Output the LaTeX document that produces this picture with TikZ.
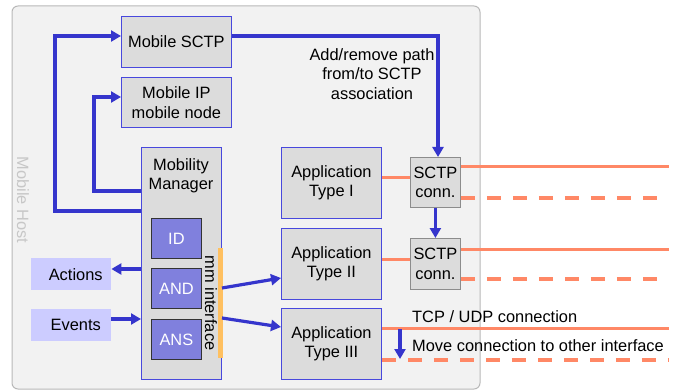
\documentclass[tikz,border=0pt]{standalone}
\usepackage{fontspec}
\setmainfont{Liberation Sans}
\usetikzlibrary{arrows.meta}
\definecolor{hostfill}{HTML}{F2F2F2}
\definecolor{hostdraw}{HTML}{B8B8B8}
\definecolor{boxgray}{HTML}{DCDCDC}
\definecolor{boxblue}{HTML}{4848DD}
\definecolor{arrblue}{HTML}{3535CC}
\definecolor{modfill}{HTML}{8080DD}
\definecolor{evfill}{HTML}{CCCCFF}
\definecolor{salmon}{HTML}{FF8866}
\definecolor{mmbar}{HTML}{FFC060}
\definecolor{conndraw}{HTML}{8C8C8C}
\begin{document}
\begin{tikzpicture}[x=1pt,y=-1pt,
  font=\fontsize{16.4}{19.5}\selectfont,
  box/.style={draw=boxblue, fill=boxgray, line width=0.8pt, align=center, inner sep=0pt, anchor=north west},
  modbox/.style={draw=black!80, fill=modfill, line width=0.8pt, text=white, inner sep=0pt, anchor=north west, minimum width=50, minimum height=40},
  evbox/.style={fill=evfill, inner sep=0pt, anchor=north west, minimum width=80, minimum height=32},
  connbox/.style={draw=conndraw, fill=boxgray, line width=0.8pt, align=center, inner sep=0pt, anchor=north west, minimum width=50, minimum height=50},
  barrow/.style={draw=arrblue, line width=3.2pt, -{Triangle[length=10pt,width=11pt]}},
  oline/.style={draw=salmon, line width=3pt},
  odash/.style={draw=salmon, line width=3.4pt, dash pattern=on 14pt off 12pt}]
\useasboundingbox (0,0) rectangle (677,390);
% host
\draw[fill=hostfill, draw=hostdraw, line width=1pt, rounded corners=6pt] (12,6) rectangle (480,389);
\node[rotate=-90, text=black!22] (host) at (23,200) {Mobile Host};
% boxes
\node[box, minimum width=110, minimum height=51] (msctp) at (121,16) {Mobile SCTP};
\node[box, minimum width=110, minimum height=50] (mip) at (121,77) {Mobile IP\\mobile node};
\node[box, minimum width=80, minimum height=232] (mm) at (141,147) {};
\node[align=center] (mmt) at (181,176) {Mobility\\Manager};
\node[modbox] (id) at (151,218) {ID};
\node[modbox] (and) at (151,268) {AND};
\node[modbox] (ans) at (151,319) {ANS};
\fill[mmbar] (218,248) rectangle (223,358);
\coordinate (bar1) at (222,288);
\coordinate (bar2) at (222,318);
\node[rotate=-90] (mmi) at (211,303) {mm interface};
\node[evbox] (act) at (31,258) {\hspace*{9pt}Actions\hfill};
\node[evbox] (ev) at (31,309) {\hspace*{9pt}Events\hfill};
\node[box, minimum width=100, minimum height=71] (app1) at (281,147) {Application\\Type I};
\node[box, minimum width=100, minimum height=71] (app2) at (281,228) {Application\\Type II};
\node[box, minimum width=100, minimum height=71] (app3) at (281,308) {Application\\Type III};
\node[connbox] (c1) at (410,157) {SCTP\\conn.};
\node[connbox, minimum height=51] (c2) at (410,238) {SCTP\\conn.};
\node[align=center] (addt) at (372,74) {Add/remove path\\from/to SCTP\\association};
\node[anchor=west, inner sep=0pt] (tcpt) at (412,317) {TCP / UDP connection};
\node[anchor=west, inner sep=0pt] (movet) at (412,346) {Move connection to other interface};
% coordinates for free ends
\coordinate (e1s) at (669,167);
\coordinate (e1d) at (660,198);
\coordinate (e2s) at (669,249);
\coordinate (e2d) at (660,279);
\coordinate (e3s) at (669,328);
\coordinate (e3d) at (669,360);
% orange lines
\draw[oline] (app1.east |- 0,178) -- (c1.west |- 0,178);
\draw[oline] (app2.east |- 0,259) -- (c2.west |- 0,259);
\draw[oline] (c1.east |- e1s) -- (e1s);
\draw[odash] (c1.east |- e1d) -- (e1d);
\draw[oline] (c2.east |- e2s) -- (e2s);
\draw[odash] (c2.east |- e2d) -- (e2d);
\draw[oline] (app3.east |- e3s) -- (e3s);
\draw[odash] (app3.east |- e3d) -- (e3d);
% blue arrows
\draw[barrow] (mm.west |- 0,211) -- (55,211) -- (55,36) -- (msctp.west |- 0,36);
\draw[barrow] (mm.west |- 0,191) -- (94,191) -- (94,97) -- (mip.west |- 0,97);
\draw[barrow] (msctp.east |- 0,36) -- (438,36) -- (c1.north -| 438,0);
\draw[barrow] (c1.south) -- (c2.north);
\draw[barrow] (mm.west |- 0,269) -- (act.east |- 0,269);
\draw[barrow] (ev.east |- 0,319) -- (mm.west |- 0,319);
\draw[barrow] (bar1) -- (app2.west |- 0,278);
\draw[barrow] (bar2) -- (app3.west |- 0,327);
\coordinate (mv1) at (400,329);
\coordinate (mv2) at (400,359);
\draw[barrow] (mv1) -- (mv2);
\end{tikzpicture}
\end{document}
